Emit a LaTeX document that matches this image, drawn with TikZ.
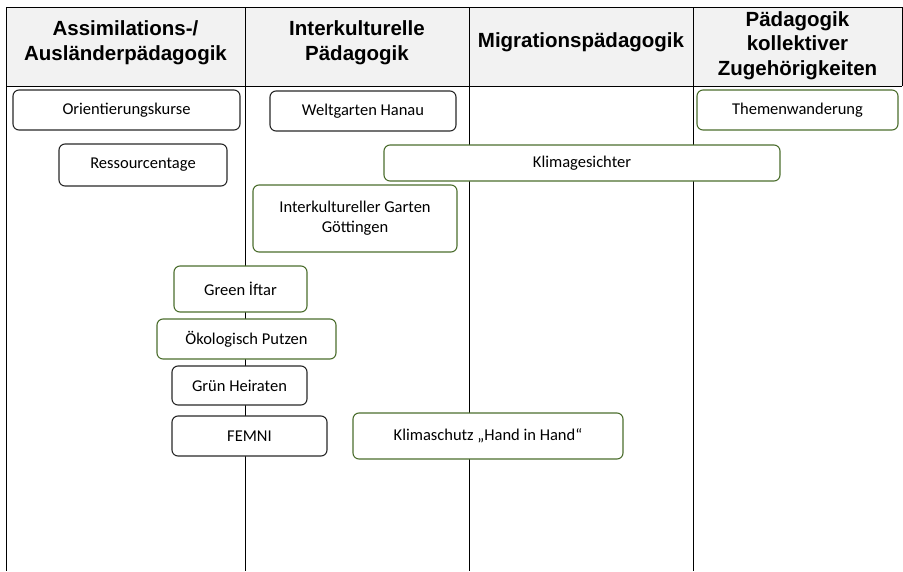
\documentclass[tikz,border=0pt]{standalone}
\usepackage{fontspec}
\setmainfont{Carlito}
\newfontfamily\headfont{Liberation Sans}
\usetikzlibrary{positioning}
\definecolor{boxgreen}{RGB}{76,110,46}
\definecolor{boxgrey}{RGB}{40,40,40}
\definecolor{headgrey}{RGB}{242,242,242}
\tikzstyle{head} = [font=\headfont\bfseries\fontsize{20.5}{24.5}\selectfont, align=center, inner sep=0pt]
\tikzstyle{project} = [rectangle, rounded corners=6pt, fill=white, line width=1.1pt, font=\fontsize{16.5}{20}\selectfont, align=center, inner sep=0pt]
\tikzstyle{greybox} = [project, draw=boxgrey]
\tikzstyle{greenbox} = [project, draw=boxgreen]

\begin{document}
\begin{tikzpicture}[x=1pt, y=-1pt]
\useasboundingbox (0,0) rectangle (903,571);
% table
\fill[headgrey] (6,7) rectangle (902,86);
\coordinate (tl) at (6,7);
\coordinate (tr) at (902,7);
\coordinate (hl) at (6,86);
\coordinate (hr) at (902,86);
\draw (tl) -- (tr) -- (hr);
\draw (hl) -- (hr);
\foreach \x in {6,245,469,693}
  \draw (\x,7) -- (\x,571);

% column heads
\node (h1) [head] at (125.5,42.5) {Assimilations-/\\Ausländerpädagogik};
\node (h2) [head] at (357,42.5) {Interkulturelle\\Pädagogik};
\node (h3) [head] at (581,42) {Migrationspädagogik};
\node (h4) [head] at (797.5,45.5) {Pädagogik\\kollektiver\\Zugehörigkeiten};

% projects
\node (orient) [greybox, minimum width=227pt, minimum height=40pt] at (126.5,110) {Orientierungskurse};
\node (welt) [greybox, minimum width=186pt, minimum height=40pt] at (363,111) {Weltgarten Hanau};
\node (themen) [greenbox, minimum width=201pt, minimum height=40pt] at (797.5,110) {Themenwanderung};
\node (ressourcen) [greybox, minimum width=168pt, minimum height=42pt] at (143,165) {Ressourcentage};
\node (klimages) [greenbox, minimum width=396pt, minimum height=36pt] at (582,163) {Klimagesichter};
\node (garten) [greenbox, minimum width=204pt, minimum height=67pt] at (355,218.5) {Interkultureller Garten\\Göttingen};
\node (iftar) [greenbox, minimum width=133pt, minimum height=46pt] at (240.5,289) {Green İftar};
\node (putzen) [greenbox, minimum width=179pt, minimum height=40pt] at (246.5,339) {Ökologisch Putzen};
\node (heiraten) [greybox, minimum width=135pt, minimum height=39pt] at (239.5,385.5) {Grün Heiraten};
\node (femni) [greybox, minimum width=155pt, minimum height=40pt] at (249.5,436) {FEMNI};
\node (hand) [greenbox, minimum width=270pt, minimum height=46pt] at (488,436) {Klimaschutz „Hand in Hand“};
\end{tikzpicture}
\end{document}
